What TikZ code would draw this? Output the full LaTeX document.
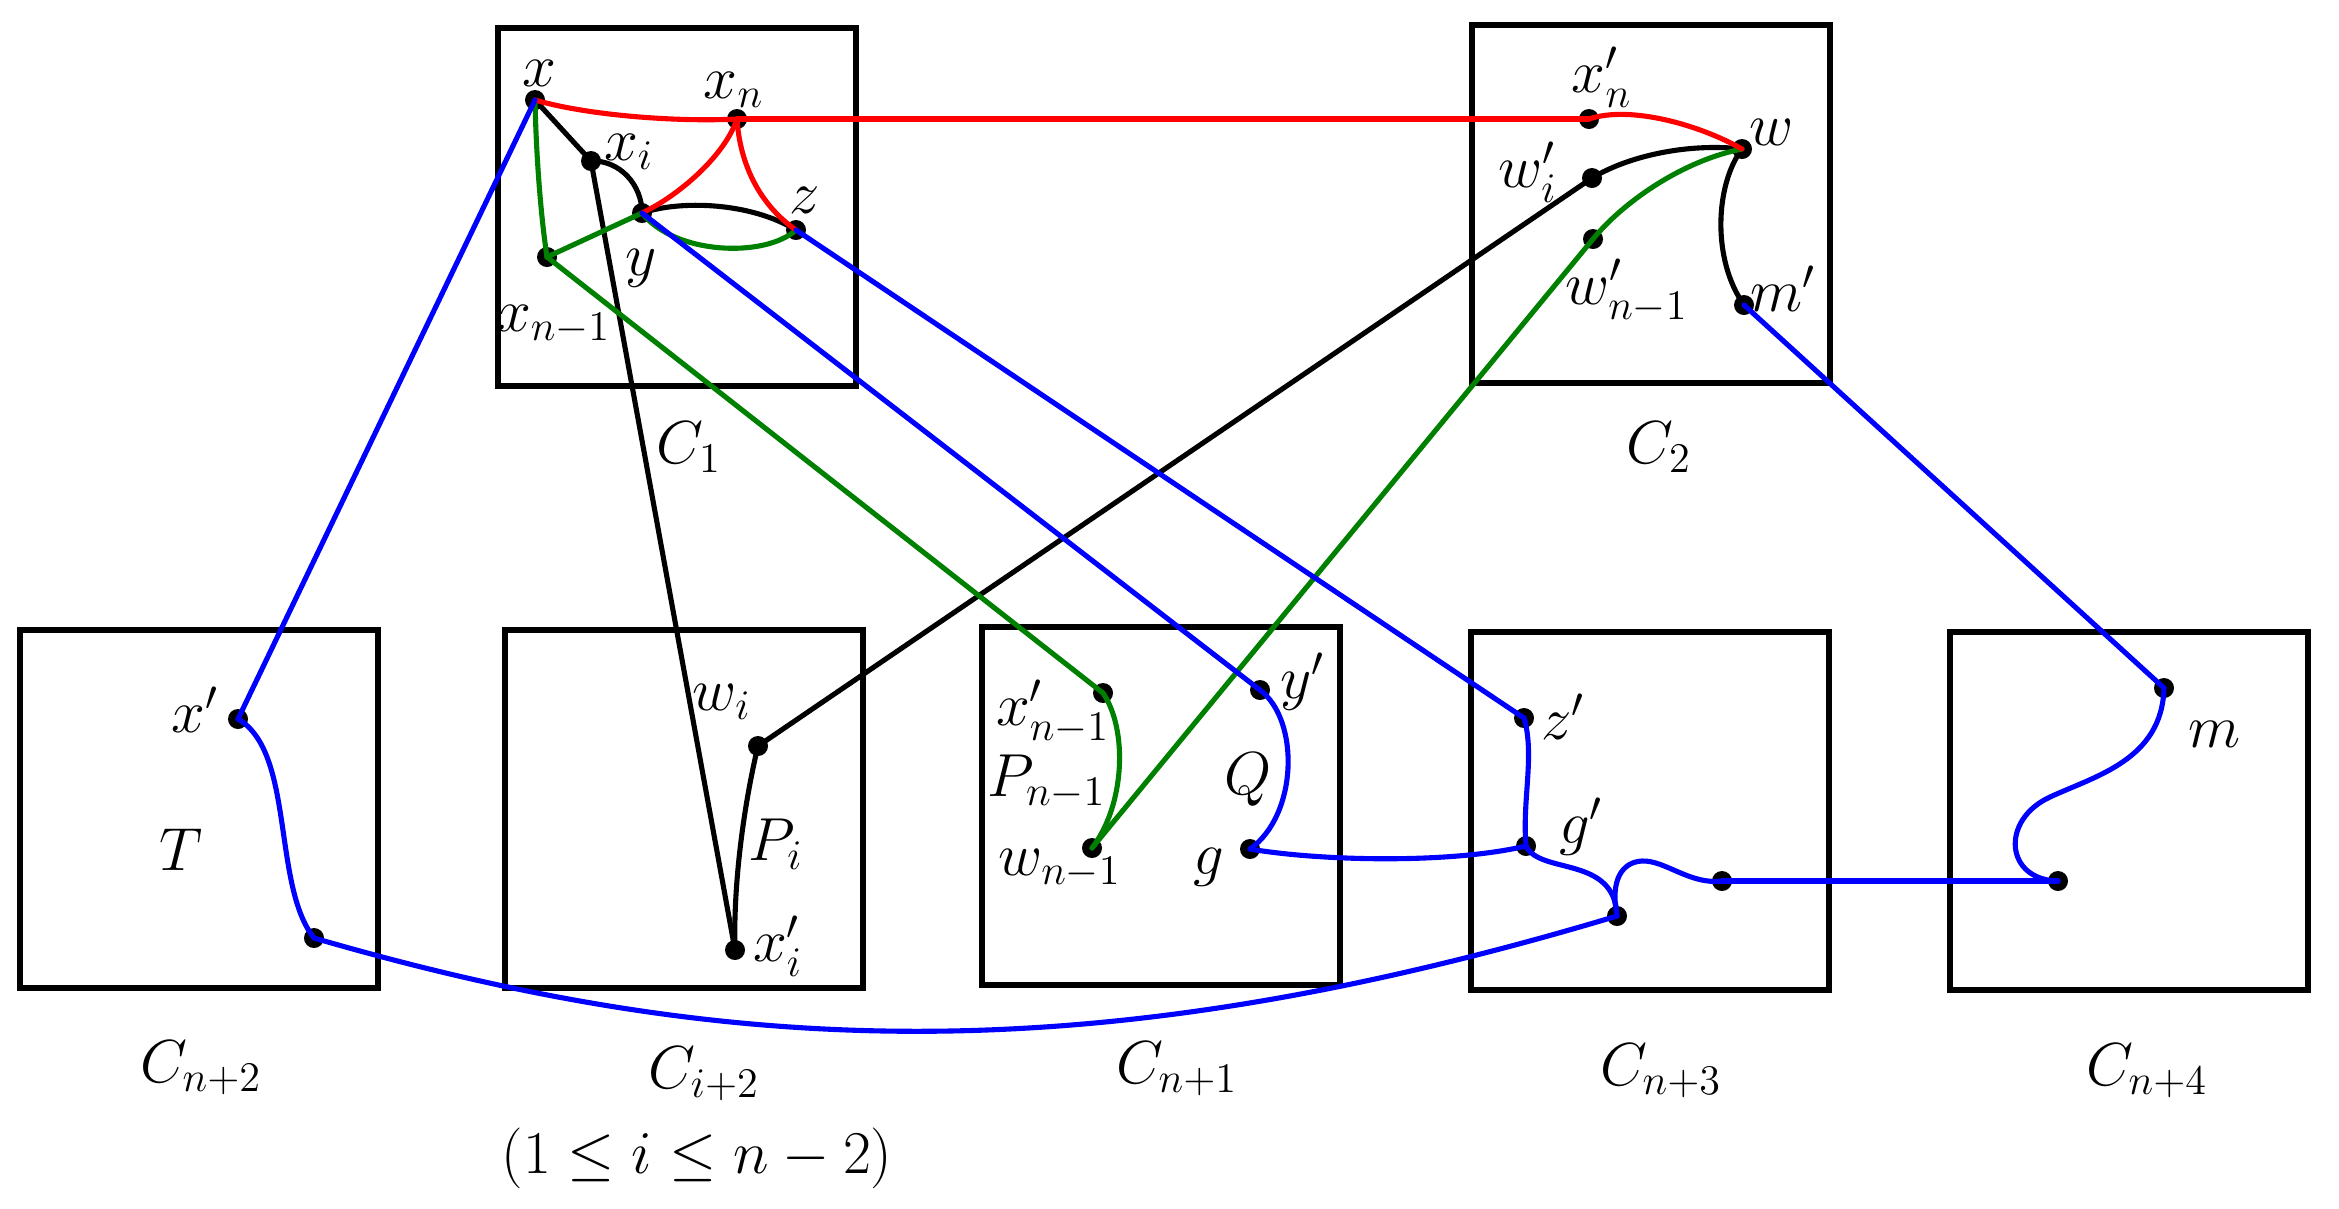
\documentclass[tikz,border=0pt]{standalone}
\usepackage{amsmath}
\definecolor{dgreen}{RGB}{0,128,0}
\definecolor{pblue}{RGB}{0,0,255}
\definecolor{pred}{RGB}{255,0,0}
\tikzset{
 cbox/.style={draw, line width=1.7pt, minimum width=3.57cm, minimum height=3.57cm, inner sep=0pt},
 lbl/.style={inner sep=0pt, font=\fontsize{16.5}{20}\selectfont},
 cl/.style={lbl, anchor=base},
 ln/.style={line width=1.45pt, line cap=round, line join=round},
 rl/.style={ln, pred},
 bl/.style={ln, black},
 gl/.style={ln, dgreen},
 ul/.style={ln, pblue},
}
\begin{document}
\begin{tikzpicture}[x=0.01cm,y=-0.01cm]
\useasboundingbox (0,0) rectangle (2339,1208);
% boxes
\node[cbox] (B1) at (677,207) {};
\node[cbox] (B2) at (1651,204) {};
\node[cbox] (Bn2) at (199,809) {};
\node[cbox] (Bi2) at (684,809) {};
\node[cbox] (Bn1) at (1161,806) {};
\node[cbox] (Bn3) at (1650,811) {};
\node[cbox] (Bn4) at (2129,811) {};
% points
\coordinate (x) at (535,100);
\coordinate (xn) at (737,119);
\coordinate (xi) at (591,161);
\coordinate (y) at (642,213);
\coordinate (z) at (796,230);
\coordinate (xnm) at (547,257);
\coordinate (xpn) at (1589,119);
\coordinate (w) at (1742,149);
\coordinate (wpi) at (1592,178);
\coordinate (wpnm) at (1593,239);
\coordinate (mp) at (1744,305);
\coordinate (xp) at (238,719);
\coordinate (tb) at (314,938);
\coordinate (wi) at (758,746);
\coordinate (xpi) at (735,950);
\coordinate (xpnm) at (1103,693);
\coordinate (wnm) at (1092,848);
\coordinate (yp) at (1260,690);
\coordinate (g) at (1250,849);
\coordinate (zp) at (1524,718);
\coordinate (gp) at (1526,846);
\coordinate (ld) at (1617,916);
\coordinate (rd) at (1722,881);
\coordinate (bd) at (2058,881);
\coordinate (m) at (2164,688);
\foreach \p in {x,xn,xi,y,z,xnm,xpn,w,wpi,wpnm,mp,xp,tb,wi,xpi,xpnm,wnm,yp,g,zp,gp,ld,rd,bd,m}
  \fill (\p) circle[radius=0.1cm];
% black
\draw[bl] (x) -- (xi);
\draw[bl] (xi) .. controls (620,160) and (642,185) .. (y);
\draw[bl] (y) .. controls (680,200) and (750,202) .. (z);
\draw[bl] (xi) -- (xpi);
\draw[bl] (wi) .. controls (745,800) and (733,880) .. (xpi);
\draw[bl] (wi) -- (wpi);
\draw[bl] (wpi) .. controls (1630,155) and (1690,143) .. (w);
\draw[bl] (w) .. controls (1715,185) and (1712,260) .. (mp);
% green
\draw[gl] (x) .. controls (536,150) and (540,210) .. (xnm);
\draw[gl] (xnm) -- (y);
\draw[gl] (y) .. controls (675,255) and (765,258) .. (z);
\draw[gl] (xnm) -- (xpnm);
\draw[gl] (xpnm) .. controls (1128,730) and (1125,805) .. (wnm);
\draw[gl] (wnm) -- (wpnm);
\draw[gl] (wpnm) .. controls (1625,200) and (1685,160) .. (w);
% red
\draw[rl] (x) .. controls (590,116) and (680,122) .. (xn);
\draw[rl] (xn) -- (xpn);
\draw[rl] (xn) .. controls (725,155) and (680,195) .. (y);
\draw[rl] (xn) .. controls (740,165) and (760,205) .. (z);
\draw[rl] (xpn) .. controls (1630,105) and (1700,125) .. (w);
% blue
\draw[ul] (x) -- (xp);
\draw[ul] (xp) .. controls (295,752) and (272,885) .. (tb);
\draw[ul] (tb) .. controls (734,1060) and (1097,1072) .. (ld);
\draw[ul] (y) -- (yp);
\draw[ul] (yp) .. controls (1300,720) and (1298,815) .. (g);
\draw[ul] (g) .. controls (1320,861) and (1450,864) .. (gp);
\draw[ul] (z) -- (zp);
\draw[ul] (zp) .. controls (1535,755) and (1522,800) .. (gp);
\draw[ul] (gp) .. controls (1540,875) and (1615,855) .. (ld);
\draw[ul] (ld) .. controls (1610,880) and (1622,862) .. (1642,861) .. controls (1665,860) and (1690,885) .. (rd);
\draw[ul] (rd) -- (bd);
\draw[ul] (bd) .. controls (2005,880) and (2000,820) .. (2050,797) .. controls (2095,776) and (2162,760) .. (m);
\draw[ul] (m) -- (mp);
% point labels
\node[lbl] (lx) at (539,73) {$x$};
\node[lbl] (lxn) at (734,90) {$x_n$};
\node[lbl] (lxi) at (629,152) {$x_i$};
\node[lbl] (lz) at (805,200) {$z$};
\node[lbl] (ly) at (641,268) {$y$};
\node[lbl] (lxnm) at (554,325) {$x_{n-1}$};
\node[lbl] (lxpn) at (1602,77) {$x'_n$};
\node[lbl] (lw) at (1772,132) {$w$};
\node[lbl] (lwpi) at (1528,172) {$w'_i$};
\node[lbl] (lwpnm) at (1627,291) {$w'_{n-1}$};
\node[lbl] (lmp) at (1783,289) {$m'$};
\node[lbl] (lxp) at (195,710) {$x'$};
\node[lbl] (lT) at (181,850) {$T$};
\node[lbl] (lwi) at (722,702) {$w_i$};
\node[lbl] (lPi) at (776,844) {$P_i$};
\node[lbl] (lxpi) at (778,946) {$x'_i$};
\node[lbl] (lxpnm) at (1053,712) {$x'_{n-1}$};
\node[lbl] (lPnm) at (1047,782) {$P_{n-1}$};
\node[lbl] (lwnm) at (1060,869) {$w_{n-1}$};
\node[lbl] (lyp) at (1303,682) {$y'$};
\node[lbl] (lQ) at (1248,780) {$Q$};
\node[lbl] (lg) at (1209,867) {$g$};
\node[lbl] (lzp) at (1563,717) {$z'$};
\node[lbl] (lgp) at (1581,827) {$g'$};
\node[lbl] (lm) at (2214,734) {$m$};
% box labels
\node[cl] (lC1) at (689,463) {$C_1$};
\node[cl] (lC2) at (1659,463) {$C_2$};
\node[cl] (lCn2) at (201,1082) {$C_{n+2}$};
\node[cl] (lCi2) at (704,1088) {$C_{i+2}$};
\node[cl] (lCn1) at (1177,1083) {$C_{n+1}$};
\node[cl] (lCn3) at (1661,1085) {$C_{n+3}$};
\node[cl] (lCn4) at (2147,1085) {$C_{n+4}$};
\node[cl] (lrange) at (697,1173) {$(1\le i\le n-2)$};
\end{tikzpicture}
\end{document}
